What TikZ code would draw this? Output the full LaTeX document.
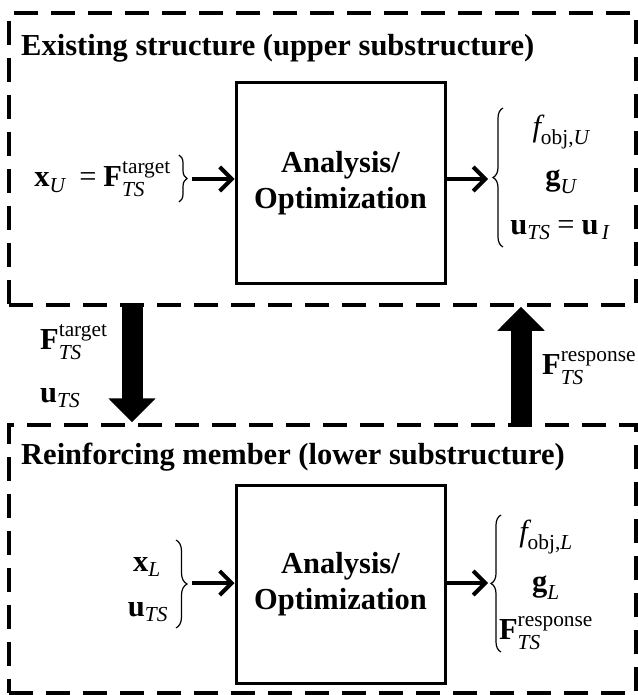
\documentclass[tikz,border=0pt]{standalone}
\usepackage{fontspec}
\usepackage{amsmath}
\setmainfont{Liberation Serif}
\usetikzlibrary{arrows.meta,decorations.pathreplacing}

\newcommand{\vb}[1]{\textnormal{\bfseries #1}}
\newcommand{\vi}[1]{\textnormal{\itshape #1}}
\newcommand{\vr}[1]{\textnormal{#1}}

\begin{document}
\begin{tikzpicture}[x=1pt,y=-1pt,
  every node/.style={inner sep=0pt, font=\fontsize{30.5}{36}\selectfont\bfseries},
  dashbox/.style={draw, line width=3.5pt, dash pattern=on 24pt off 13pt},
  procbox/.style={draw, line width=3pt, minimum width=209pt, align=center},
  smallarrow/.style={line width=4pt, -{Straight Barb[length=12pt,width=24pt]}},
  bigarrow/.style={line width=21pt, -{Triangle[width=46pt,length=24pt]}},
  bracestyle/.style={decorate, decoration={brace, amplitude=#1}, line width=1.2pt},
]
\useasboundingbox (0,0) rectangle (637,695);

% dashed substructure frames
\node[dashbox, minimum width=627pt, minimum height=292pt] (upper) at (322.5,159) {};
\node[dashbox, minimum width=627pt, minimum height=268pt] (lower) at (322.5,559) {};

% titles
\node[anchor=west] (t1) at (21,48) {Existing structure (upper substructure)};
\node[anchor=west] (t2) at (21,457) {Reinforcing member (lower substructure)};

% process boxes
\node[procbox, minimum height=200pt] (pu) at (340.5,183) {Analysis/\\Optimization};
\node[procbox, minimum height=198pt] (pl) at (340.5,584) {Analysis/\\Optimization};

% upper inputs
\node[anchor=east] (inU) at (171,179) {$\vb{x}_{\vi{U}}\;\;\vr{=}\;\vb{F}^{\vr{target}}_{\vi{TS}}$};
\coordinate (bU1) at (179,155);
\coordinate (bU2) at (179,202);
\draw[bracestyle=8pt] (bU1) -- (bU2);
\coordinate (aU1) at (192,179);
\draw[smallarrow] (aU1) -- (aU1 -| pu.west);

% upper outputs
\coordinate (aU2) at (488,179);
\draw[smallarrow] (aU2 -| pu.east) -- (aU2);
\coordinate (bU3) at (503,247);
\coordinate (bU4) at (503,108);
\draw[bracestyle=10pt] (bU3) -- (bU4);
\node (fU) at (561,132) {$\vi{f}_{\vr{obj,}\vi{U}}$};
\node (gU) at (561,182) {$\vb{g}_{\vi{U}}$};
\node (uU) at (560,230) {$\vb{u}_{\vi{TS}}\;\vr{=}\;\vb{u}_{\,\vi{I}}$};

% coupling arrows
\coordinate (dn) at (132,0);
\coordinate (up) at (521,0);
\draw[bigarrow] (upper.south -| dn) -- ([yshift=1pt]lower.north -| dn);
\draw[bigarrow] (lower.north -| up) -- (upper.south -| up);
\node[anchor=west] (ft) at (40,342) {$\vb{F}^{\vr{target}}_{\vi{TS}}$};
\node[anchor=west] (ut) at (40,398) {$\vb{u}_{\vi{TS}}$};
\node[anchor=west] (fr) at (542,368) {$\vb{F}^{\vr{response}}_{\vi{TS}}$};

% lower inputs
\node (xL) at (147,567) {$\vb{x}_{\vi{L}}$};
\node (uL) at (148,612) {$\vb{u}_{\vi{TS}}$};
\coordinate (bL1) at (176,540);
\coordinate (bL2) at (176,628);
\draw[bracestyle=11pt] (bL1) -- (bL2);
\coordinate (aL1) at (192,583);
\draw[smallarrow] (aL1) -- (aL1 -| pl.west);

% lower outputs
\coordinate (aL2) at (488,583);
\draw[smallarrow] (aL2 -| pl.east) -- (aL2);
\coordinate (bL3) at (501,652);
\coordinate (bL4) at (501,515);
\draw[bracestyle=10pt] (bL3) -- (bL4);
\node (fL) at (546,537) {$\vi{f}_{\vr{obj,}\vi{L}}$};
\node (gL) at (546,588) {$\vb{g}_{\vi{L}}$};
\node (FL) at (546,633) {$\vb{F}^{\vr{response}}_{\vi{TS}}$};
\end{tikzpicture}
\end{document}
